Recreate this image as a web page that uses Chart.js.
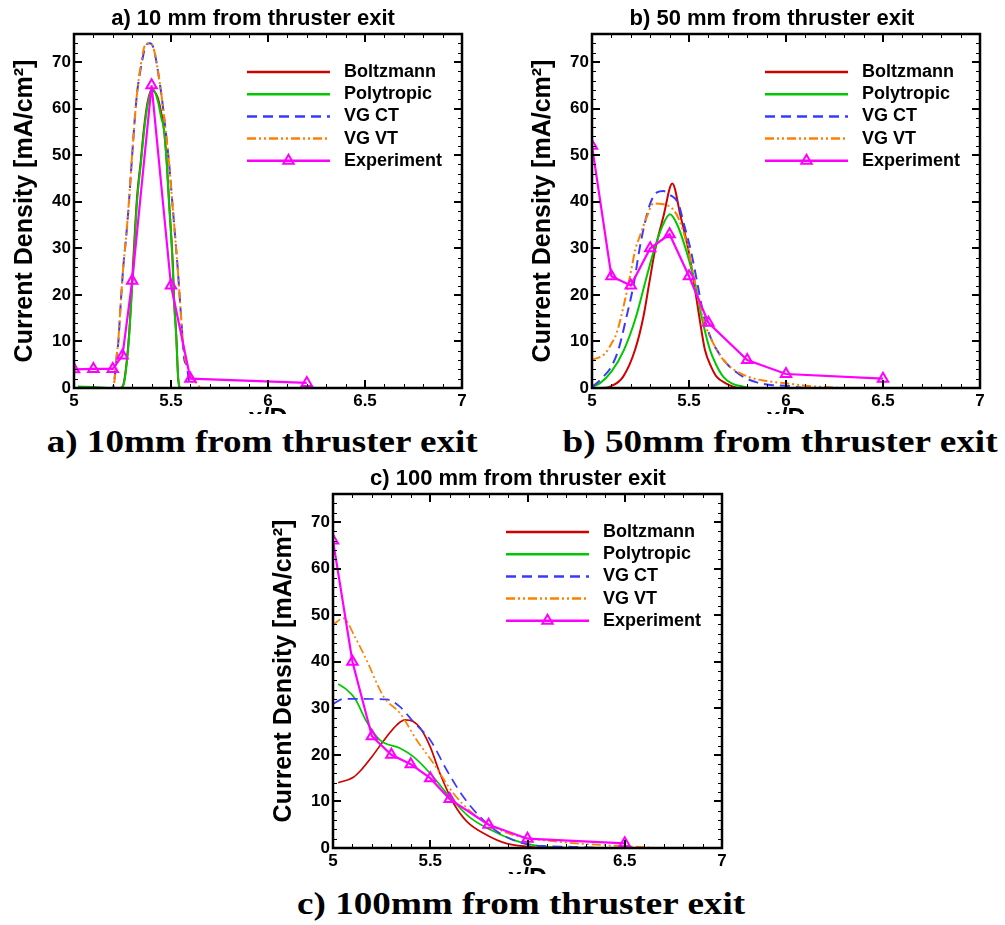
<!DOCTYPE html>
<html><head><meta charset="utf-8">
<script src="https://cdn.jsdelivr.net/npm/chart.js@4.4.1/dist/chart.umd.min.js"></script>
<style>
html,body{margin:0;padding:0;background:#fff;width:1005px;height:925px;overflow:hidden;position:relative;}
.box{position:absolute;overflow:hidden;}
.cap{position:absolute;display:inline-block;font-family:"Liberation Serif","Times New Roman",serif;font-weight:bold;font-size:31px;white-space:nowrap;color:#000;transform-origin:center center;line-height:1;}
</style></head><body>
<div class="box" style="left:0;top:0;width:506px;height:414px"><canvas id="cA" width="506" height="432"></canvas></div>
<div class="box" style="left:518px;top:0;width:487px;height:414px"><canvas id="cB" width="508" height="432"></canvas></div>
<div class="box" style="left:259px;top:460px;width:518px;height:414px"><canvas id="cC" width="518" height="432"></canvas></div>
<div class="cap" id="capA">a) 10mm from thruster exit</div>
<div class="cap" id="capB">b) 50mm from thruster exit</div>
<div class="cap" id="capC">c) 100mm from thruster exit</div>
<script>
// ---------- data ----------
const seriesNames = ['Boltzmann','Polytropic','VG CT','VG VT','Experiment'];
const titles = ['a) 10 mm from thruster exit','b) 50 mm from thruster exit','c) 100 mm from thruster exit'];
const xTitle = 'x/D';
const yTitle = 'Current Density [mA/cm\u00B2]';

// a) 10 mm
const aBoltzX = [5.0,5.2,5.24,5.255,5.27,5.285,5.305,5.325,5.345,5.36,5.38,5.40,5.43,5.45,5.464,5.478,5.49,5.5,5.51,5.516,5.527,5.538,5.55,7.0];
const aBoltzY = [0,0,0,0.8,5,12,27,41,49,55.5,61.5,64,62.5,59,55.5,48.5,40,33.5,26,19,11.5,1.5,0,0];
const aPolyX = [5.02,5.1,5.2,5.24,5.255,5.27,5.285,5.306,5.325,5.345,5.362,5.38,5.404,5.43,5.45,5.464,5.478,5.49,5.5,5.509,5.515,5.526,5.538,5.55,5.6,7.0];
const aPolyY = [0.3,0.2,0,0,0.6,4.6,11.7,26,40,48.3,55.4,61,64.3,62,58,55.4,48.3,39.7,33.2,26,18.9,11.7,1.7,0,0,0];
const aCTX = [5.0,5.2,5.208,5.22,5.228,5.242,5.254,5.27,5.283,5.297,5.323,5.349,5.37,5.39,5.41,5.426,5.452,5.472,5.49,5.507,5.52,5.534,5.546,5.558,5.569,5.58,5.6,7.0];
const aCTY = [0,0,1.7,6.7,9.6,18.9,26,33,39.7,48.3,62.5,69.7,73.5,74,73,69.7,62.5,55.4,48.3,39.7,33.2,26,18.9,11.7,6,5,0,0];
const aVTX = [5.0,5.2,5.21,5.22,5.228,5.242,5.254,5.27,5.283,5.297,5.323,5.345,5.365,5.385,5.405,5.425,5.452,5.472,5.49,5.507,5.52,5.534,5.546,5.558,5.57,5.59,5.62,5.66,7.0];
const aVTY = [0,0,2,7,10,19,26,33,40,48.5,62.5,69.5,73.5,74,73.5,70,62.5,55.4,48.3,39.7,33.2,26,18.9,11.7,7,4,1.7,0,0];
const aExpX = [5.0,5.1,5.2,5.25,5.3,5.4,5.5,5.6,6.2];
const aExpY = [4,4.1,4.1,7,23,65,22,2,1.1];

// b) 50 mm
const bBoltzX = [5.0,5.05,5.093,5.16,5.222,5.265,5.295,5.325,5.368,5.414,5.457,5.497,5.526,5.553,5.582,5.615,5.643,5.69,5.727,5.76,7.0];
const bBoltzY = [0,0,0.3,2.4,8.2,15.3,22.5,29.6,36.8,43.9,36.8,29.6,22.5,15.3,8.2,4.5,2.4,1,0.3,0,0];
const bPolyX = [5.0,5.04,5.1,5.165,5.227,5.273,5.32,5.36,5.402,5.44,5.485,5.531,5.565,5.608,5.64,5.677,5.72,5.78,5.82,7.0];
const bPolyY = [0.3,1,3.5,8.2,15.3,22.5,29.6,34.5,37.3,35,29.6,22.5,15.3,8.2,5,2.4,1,0.3,0,0];
const bCTX = [5.0,5.024,5.06,5.1,5.136,5.178,5.216,5.244,5.27,5.3,5.335,5.368,5.4,5.445,5.475,5.509,5.543,5.577,5.61,5.643,5.7,5.78,5.85,5.935,6.0,6.1,7.0];
const bCTY = [0.3,1,2.5,4.6,8.2,15.3,22.5,29.6,35,39.6,42,42.3,41.5,39.6,35,29.6,22.5,15.3,11,8.2,5,2.4,1.2,0.6,0.5,0,0];
const bVTX = [5.0,5.067,5.1,5.127,5.17,5.204,5.222,5.25,5.285,5.316,5.36,5.419,5.45,5.497,5.531,5.57,5.643,5.7,5.806,5.9,6.0,6.1,6.2,6.3,7.0];
const bVTY = [6,7.4,9.5,11.8,18.9,25.7,29.5,33,37,39.6,39.5,38.3,36,29.6,22.5,15.3,8.2,5,2.4,1.5,1.0,0.5,0.2,0,0];
const bExpX = [5.0,5.1,5.2,5.3,5.4,5.5,5.6,5.8,6.0,6.5];
const bExpY = [52,24,22,30,33,24,14,6,3,2];

// c) 100 mm
const cBoltzX = [5.027,5.105,5.15,5.2,5.276,5.33,5.37,5.41,5.456,5.5,5.55,5.62,5.69,5.79,5.89,6.0,6.1,7.0];
const cBoltzY = [14,15.2,17,19.6,23.9,26.5,27.5,27.2,25.3,21.7,16,9.6,5.6,2.8,1.0,0.3,0,0];
const cPolyX = [5.027,5.07,5.113,5.173,5.24,5.345,5.413,5.5,5.6,5.7,5.81,5.93,6.03,6.2,7.0];
const cPolyY = [35.2,34,32.1,27.1,23.2,21.4,19.6,16,11,6.7,3.9,1.7,0.6,0.1,0];
const cCTX = [5.0,5.053,5.15,5.276,5.345,5.413,5.5,5.585,5.67,5.756,5.86,5.996,6.1,6.2,6.3,6.4,7.0];
const cCTY = [30.9,32,32,31.9,30.3,27.1,23.2,16.7,11,6.7,3.1,0.8,0.4,0.3,0.2,0,0];
const cVTX = [5.0,5.053,5.113,5.173,5.26,5.345,5.43,5.516,5.62,5.72,5.82,5.96,6.1,6.25,6.4,6.55,6.7,7.0];
const cVTY = [47.9,49.3,45.3,40.3,32.5,28.9,23.2,18.2,11.7,7.4,4.6,2.4,1.6,1.0,0.6,0.3,0,0];
const cExpX = [5.0,5.1,5.2,5.3,5.4,5.5,5.6,5.8,6.0,6.5];
const cExpY = [66,40,24,20,18,15,10.5,5,2,1];

const xTickLabels = ['5','5.5','6','6.5','7'];
const yTickLabels = ['0','10','20','30','40','50','60','70'];

// ---------- styling ----------
const FONT = '"Liberation Sans", Arial, Helvetica, sans-serif';
const COLORS = ['#d00000','#00c800','#3a3aff','#ff8000','#ff00ff'];
const DASHES = [[],[],[10,6],[9,3,2,3,2,3],[]];
const ORDERS = [4,3,2,1,0];

function pts(xs, ys){ return xs.map((x,i)=>({x:x, y:ys[i]})); }

function makeSets(list, simWidth){
  return list.map((pair,i)=>{
    const isExp = i === 4;
    return {
      label: seriesNames[i],
      data: pts(pair[0], pair[1]),
      borderColor: COLORS[i],
      backgroundColor: COLORS[i],
      borderWidth: isExp ? 2.2 : simWidth,
      borderDash: DASHES[i],
      order: ORDERS[i],
      fill: false,
      tension: 0,
      cubicInterpolationMode: isExp ? 'default' : 'monotone',
      pointRadius: isExp ? 6 : 0,
      pointStyle: 'triangle',
      pointBorderColor: COLORS[i],
      pointBackgroundColor: 'rgba(0,0,0,0)',
      pointBorderWidth: 2
    };
  });
}

// frame, inward ticks, and inside legend
const framePlugin = {
  id: 'frameTicks',
  afterDatasetsDraw(chart){
    const {ctx, chartArea:a, scales:{x, y}} = chart;
    ctx.save();
    ctx.strokeStyle = '#000';
    ctx.lineWidth = 1;
    ctx.beginPath();
    for (let k = 1; k < 20; k++){
      const v = x.min + k*0.1;
      if (k % 5 === 0) continue;
      const px = Math.round(x.getPixelForValue(v)) + 0.5;
      ctx.moveTo(px, a.bottom); ctx.lineTo(px, a.bottom-4);
      ctx.moveTo(px, a.top); ctx.lineTo(px, a.top+4);
    }
    for (let v = 2; v < y.max; v += 2){
      if (v % 10 === 0) continue;
      const py = Math.round(y.getPixelForValue(v)) + 0.5;
      ctx.moveTo(a.left, py); ctx.lineTo(a.left+4, py);
      ctx.moveTo(a.right, py); ctx.lineTo(a.right-4, py);
    }
    ctx.stroke();
    ctx.lineWidth = 2;
    ctx.beginPath();
    x.ticks.forEach(t=>{
      const px = Math.round(x.getPixelForValue(t.value));
      ctx.moveTo(px, a.bottom); ctx.lineTo(px, a.bottom-8);
      ctx.moveTo(px, a.top); ctx.lineTo(px, a.top+8);
    });
    y.ticks.forEach(t=>{
      const py = Math.round(y.getPixelForValue(t.value));
      ctx.moveTo(a.left, py); ctx.lineTo(a.left+8, py);
      ctx.moveTo(a.right, py); ctx.lineTo(a.right-8, py);
    });
    ctx.stroke();
    ctx.lineWidth = 2.5;
    ctx.strokeRect(a.left, a.top, a.right-a.left, a.bottom-a.top);
    ctx.restore();
  },
  afterDraw(chart){
    const {ctx, chartArea:a} = chart;
    const ds = chart.data.datasets;
    ctx.save();
    ctx.font = 'bold 18px ' + FONT;
    ctx.textBaseline = 'middle';
    ctx.textAlign = 'left';
    ds.forEach((d,i)=>{
      const yy = a.top + 38 + i*22.2;
      const x0 = a.left + 173, x1 = a.left + 256;
      ctx.strokeStyle = d.borderColor;
      ctx.lineWidth = 2.5;
      ctx.setLineDash(d.borderDash || []);
      ctx.beginPath(); ctx.moveTo(x0, yy); ctx.lineTo(x1, yy); ctx.stroke();
      ctx.setLineDash([]);
      if (d.pointRadius > 0){
        const cx = (x0+x1)/2, r = 6;
        ctx.lineWidth = 2;
        ctx.beginPath();
        ctx.moveTo(cx, yy - r);
        ctx.lineTo(cx + r*0.866, yy + r*0.5);
        ctx.lineTo(cx - r*0.866, yy + r*0.5);
        ctx.closePath();
        ctx.stroke();
      }
      ctx.fillStyle = '#000';
      ctx.fillText(d.label, a.left + 270, yy);
    });
    ctx.restore();
  }
};

function makeChart(id, title, sets, padRight){
  return new Chart(document.getElementById(id), {
    type: 'line',
    data: { datasets: sets },
    plugins: [framePlugin],
    options: {
      responsive: false,
      animation: false,
      events: [],
      layout: { padding: 0 },
      plugins: {
        legend: { display: false },
        tooltip: { enabled: false },
        title: { display: true, text: title, color: '#000',
          font: { family: FONT, size: 22, weight: 'bold', lineHeight: 1.2 },
          padding: { top: 5.8, bottom: 1.8 } }
      },
      scales: {
        x: {
          type: 'linear', min: 5, max: 7,
          grid: { display: false, drawTicks: false },
          border: { display: false },
          ticks: { stepSize: 0.5, padding: 3, color: '#000', maxRotation: 0,
            font: { family: FONT, size: 17, weight: 'bold' },
            callback: (v) => { const i = Math.round((v-5)/0.5); return xTickLabels[i] !== undefined ? xTickLabels[i] : ''; } },
          title: { display: true, text: xTitle, color: '#000', padding: 0,
            font: { family: FONT, size: 25, weight: 'bold', lineHeight: 1 } },
          afterFit(s){ s.height = 44; }
        },
        y: {
          type: 'linear', position: 'left', min: 0, max: 76,
          grid: { display: false, drawTicks: false },
          border: { display: false },
          ticks: { stepSize: 10, includeBounds: false, padding: 3, color: '#000',
            font: { family: FONT, size: 17, weight: 'bold' },
            callback: (v) => { const i = Math.round(v/10); return yTickLabels[i] !== undefined ? yTickLabels[i] : ''; } },
          title: { display: true, text: yTitle, color: '#000', padding: { top: 10, bottom: 0 },
            font: { family: FONT, size: 25, weight: 'bold', lineHeight: 1.2 } },
          afterFit(s){ s.width = 74; }
        },
        yRight: {
          type: 'linear', position: 'right', min: 0, max: 76, display: true,
          grid: { display: false, drawTicks: false },
          border: { display: false },
          ticks: { display: false },
          afterFit(s){ s.width = padRight; }
        }
      }
    }
  });
}

makeChart('cA', titles[0], makeSets([[aBoltzX,aBoltzY],[aPolyX,aPolyY],[aCTX,aCTY],[aVTX,aVTY],[aExpX,aExpY]], 2), 44);
makeChart('cB', titles[1], makeSets([[bBoltzX,bBoltzY],[bPolyX,bPolyY],[bCTX,bCTY],[bVTX,bVTY],[bExpX,bExpY]], 2), 46);
makeChart('cC', titles[2], makeSets([[cBoltzX,cBoltzY],[cPolyX,cPolyY],[cCTX,cCTY],[cVTX,cVTY],[cExpX,cExpY]], 1.7), 55);

// captions
function placeCaps(){
  [['capA',262.5,426,431],['capB',780.5,426,435],['capC',521,888,448]].forEach(([id,cx,top,tw])=>{
    const el = document.getElementById(id);
    el.style.transform = 'none';
    const w = el.getBoundingClientRect().width;
    el.style.left = (cx - w/2) + 'px';
    el.style.top = top + 'px';
    el.style.transform = 'scaleX(' + (tw / w) + ')';
  });
}
placeCaps();
if (document.fonts && document.fonts.ready) document.fonts.ready.then(placeCaps);
</script>
</body></html>
